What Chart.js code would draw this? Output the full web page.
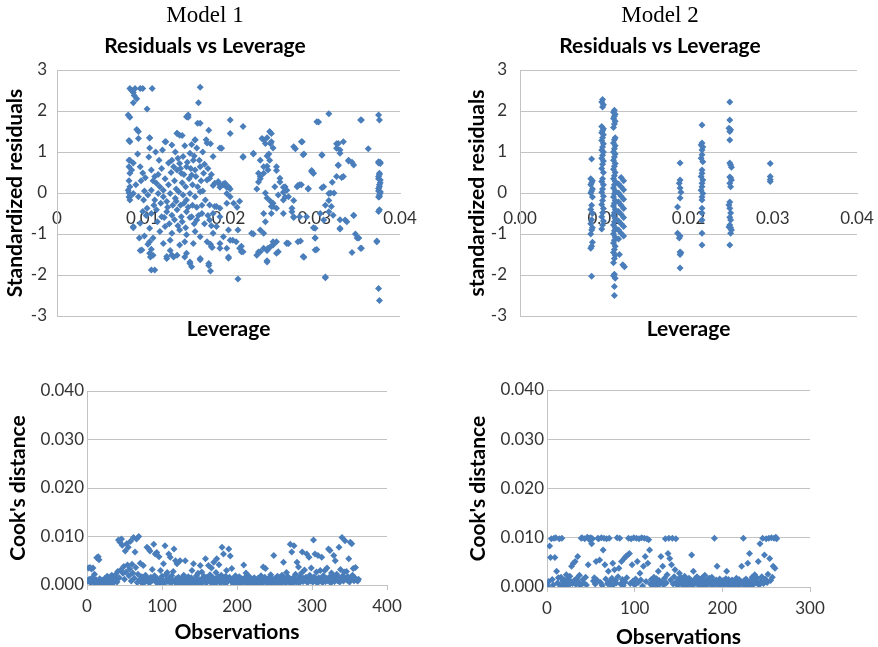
<!DOCTYPE html>
<html>
<head>
<meta charset="utf-8">
<script src="https://cdn.jsdelivr.net/npm/chart.js@4.4.1/dist/chart.umd.min.js"></script>
<style>
  body { margin: 0; background: #fff; width: 878px; height: 647px; position: relative; overflow: hidden; }
  canvas { position: absolute; }
</style>
</head>
<body>
<canvas id="c1" width="428" height="350" style="left:-6px;top:0px"></canvas>
<canvas id="c2" width="414" height="350" style="left:463px;top:0px"></canvas>
<canvas id="c3" width="410" height="277" style="left:0px;top:370px"></canvas>
<canvas id="c4" width="400" height="282" style="left:440px;top:370px"></canvas>
<script>
// leverage / standardized residual pairs, model 1
const model1Points = [
  [0.0085,2.55],[0.0087,2.5],[0.0089,2.45],[0.0091,2.55],[0.0093,2.3],[0.0089,2.2],[0.0097,2.55],[0.0100,2.55],[0.0111,2.55],[0.0090,2.38],[0.0105,2.05],
  [0.0083,1.9],[0.0085,1.85],[0.0093,1.55],[0.0095,1.5],[0.0084,1.28],[0.0108,1.35],
  [0.0167,2.58],[0.0165,2.2],[0.0153,1.85],[0.0202,1.78],[0.0217,1.62],[0.0202,1.45],
  [0.0140,1.45],[0.0146,1.4],[0.0177,1.53],[0.0167,1.7],[0.0127,1.25],[0.0161,1.3],[0.0179,1.2],[0.0157,1.18],[0.0190,1.1],[0.0229,0.95],[0.0217,0.87],
  [0.0241,1.3],[0.0245,1.35],[0.0249,1.2],[0.0250,1.45],[0.0252,1.1],[0.0278,1.08],[0.0286,1.25],[0.0288,0.95],
  [0.0305,1.73],[0.0317,1.93],[0.0309,0.92],[0.0326,1.2],[0.0334,1.25],[0.0330,1.05],[0.0354,1.78],[0.0363,1.08],
  [0.0375,1.9],[0.0376,1.78],[0.0375,0.73],[0.0377,0.75],[0.0376,0.45],[0.0375,0.35],[0.0377,0.25],[0.0376,0.15],[0.0375,0.05],[0.0377,0.0],[0.0376,-0.05],[0.0375,-0.1],[0.0375,-0.45],[0.0373,-1.17],[0.0375,-2.33],[0.0376,-2.62],
  [0.0340,0.78],[0.0344,0.75],[0.0328,0.67],[0.0332,0.38],[0.0321,0.26],[0.0319,0.0],[0.0323,0.0],[0.0309,0.13],
  [0.0297,0.55],[0.0299,0.48],[0.0293,0.1],[0.0285,0.2],[0.0281,0.18],
  [0.0317,-0.18],[0.0313,-0.3],[0.0307,-0.5],[0.0299,-0.85],[0.0301,-1.1],[0.0303,-1.38],[0.0313,-2.05],[0.0288,-1.57],[0.0284,-1.17],
  [0.0330,-0.65],[0.0338,-0.7],[0.0346,-0.55],[0.0330,-0.88],[0.0348,-1.0],[0.0352,-1.1],[0.0354,-1.35],[0.0344,-1.45],
  [0.0276,-0.18],[0.0274,-0.37],[0.0276,-0.6],[0.0264,0.02],[0.0268,-1.22],[0.0256,-1.47],
  [0.0260,0.27],[0.0264,0.14],[0.0266,-0.1],[0.0256,0.55],
  [0.0245,0.65],[0.0241,0.48],[0.0237,0.35],[0.0235,0.27],[0.0245,0.9],[0.0247,0.95],
  [0.0233,0.1],[0.0243,0.0],[0.0245,-0.12],[0.0249,-0.2],[0.0252,-0.33],[0.0250,-0.5],[0.0241,-0.5],[0.0243,-0.7],[0.0237,-0.9],
  [0.0229,-1.0],[0.0241,-1.35],[0.0245,-1.4],[0.0249,-1.31],[0.0252,-1.27],[0.0235,-1.44],[0.0233,-1.52],[0.0245,-1.65],[0.0256,-1.19],
  [0.0213,-0.2],[0.0210,-0.35],[0.0211,-0.9],[0.0215,-1.3],[0.0217,-1.43],[0.0211,-2.1],[0.0202,-1.15],[0.0200,-1.56],[0.0190,-1.35],
  [0.0179,-1.25],[0.0181,-1.33],[0.0177,-1.77],[0.0179,-1.9],[0.0167,-1.6],[0.0155,-1.72],[0.0157,-1.8],[0.0149,-1.56],
  [0.0136,-1.56],[0.0140,-1.52],[0.0128,-1.6],[0.0132,-1.4],[0.0110,-1.37],[0.0112,-1.52],[0.0109,-1.56],[0.0114,-1.88],[0.0097,-1.4],[0.0089,-0.85],
  [0.0084,0.8],[0.0084,0.64],[0.0085,0.48],[0.0084,0.3],[0.0085,0.15],[0.0084,0.0],[0.0085,-0.17],[0.0084,-0.1],
  [0.0182,0.18],[0.0190,0.14],[0.0194,0.22],[0.0198,0.14],[0.0202,0.1],
  [0.0095,1.33],[0.0085,1.25],[0.0108,1.34],[0.0126,1.25],[0.0134,1.17],[0.0140,1.46],[0.0143,1.41],[0.0151,1.86],[0.0164,1.7],[0.0161,1.29],[0.0163,1.1],[0.0175,1.22],[0.0192,1.09],[0.0108,1.1],[0.0107,0.88],
  [0.0085,0.8],[0.0087,0.56],[0.0089,0.73],[0.0097,0.64],[0.0100,0.49],[0.0103,0.37],
  [0.0110,0.56],[0.0114,0.4],[0.0116,0.24],[0.0120,0.15],[0.0124,0.07],
  [0.0130,0.73],[0.0134,0.8],[0.0136,0.64],[0.0140,0.56],[0.0143,0.72],[0.0147,0.89],[0.0145,0.48],
  [0.0155,0.97],[0.0159,0.8],[0.0151,0.64],[0.0157,0.44],[0.0161,0.56],
  [0.0167,0.64],[0.0171,0.48],[0.0175,0.32],[0.0178,0.36],[0.0184,0.24],[0.0190,0.2],[0.0196,0.24],[0.0200,0.15],
  [0.0083,0.07],[0.0085,-0.09],[0.0089,-0.01],
  [0.0095,-0.09],[0.0101,-0.17],[0.0106,-0.05],[0.0110,0.07],[0.0114,-0.17],[0.0118,-0.01],
  [0.0124,-0.09],[0.0128,-0.21],[0.0132,-0.01],[0.0138,-0.13],[0.0142,0.03],[0.0147,-0.05],[0.0151,-0.17],[0.0155,-0.01],[0.0161,-0.09],[0.0167,0.03],
  [0.0173,-0.17],[0.0178,-0.29],[0.0184,-0.33],[0.0190,-0.37],[0.0198,-0.25],
  [0.0105,-0.37],[0.0110,-0.5],[0.0116,-0.41],[0.0122,-0.58],[0.0128,-0.46],[0.0134,-0.54],[0.0140,-0.41],[0.0145,-0.58],[0.0151,-0.46],[0.0157,-0.58],[0.0163,-0.66],[0.0169,-0.5],
  [0.0089,-0.82],[0.0097,-0.74],[0.0108,-0.86],[0.0120,-0.94],[0.0126,-0.82],[0.0134,-0.98],[0.0143,-0.9],[0.0151,-1.02],[0.0161,-0.94],[0.0167,-1.07],[0.0182,-0.98],[0.0186,-0.82],[0.0194,-1.07],[0.0200,-0.9],
  [0.0108,-1.19],[0.0124,-1.23],[0.0132,-1.15],[0.0143,-1.27],[0.0149,-1.19],[0.0159,-1.23],[0.0175,-1.19],[0.0180,-1.31],[0.0190,-1.23],[0.0198,-1.35],
  [0.0099,-1.39],[0.0108,-1.47],[0.0128,-1.55],[0.0134,-1.51],[0.0151,-1.47],[0.0155,-1.68],[0.0167,-1.63],[0.0177,-1.72],[0.0110,-1.88],
  [0.0112,0.3],[0.0118,0.45],[0.0122,0.6],[0.0126,0.35],[0.0130,0.2],[0.0133,0.5],[0.0137,0.3],[0.0139,0.1],[0.0141,0.85],[0.0144,0.6],[0.0146,0.25],[0.0148,0.45],[0.0150,0.15],[0.0152,0.75],[0.0154,0.35],[0.0156,0.6],[0.0158,0.2],[0.0160,0.9],[0.0162,0.4],[0.0164,0.15],[0.0166,0.8],[0.0168,0.3],[0.0170,0.05],
  [0.0113,-0.3],[0.0117,-0.7],[0.0121,-0.25],[0.0125,-0.6],[0.0129,-0.35],[0.0131,-0.75],[0.0135,-0.3],[0.0137,-0.65],[0.0139,-0.2],[0.0141,-0.8],[0.0144,-0.3],[0.0146,-0.7],[0.0148,-0.25],[0.0150,-0.85],[0.0153,-0.35],[0.0155,-0.6],[0.0158,-0.3],[0.0160,-0.75],[0.0163,-0.35],[0.0165,-0.55],[0.0169,-0.3],[0.0172,-0.75],[0.0176,-0.55],[0.0180,-0.8],
  [0.0115,1.0],[0.0119,0.8],[0.0123,1.05],[0.0138,1.0],[0.0149,1.15],[0.0170,1.0],[0.0172,0.7],[0.0174,1.3],[0.0176,0.6],[0.0180,0.45],
  [0.0092,0.2],[0.0094,0.95],[0.0098,0.3],[0.0102,0.05],[0.0104,-0.55],[0.0100,-0.45],[0.0096,-1.1],[0.0102,-1.05],[0.0106,-1.25],[0.0112,-1.1],
  [0.0153,1.9],[0.0182,0.89],[0.0217,0.89],[0.0229,0.97],
  [0.0237,0.8],[0.0241,0.64],[0.0235,0.48],[0.0237,0.4],[0.0246,0.56],[0.0248,0.8],
  [0.0239,1.33],[0.0248,1.5],[0.0250,1.25],[0.0243,1.21],
  [0.0256,0.64],[0.0260,0.36],[0.0266,0.15],[0.0254,0.15],[0.0258,-0.05],[0.0264,-0.17],[0.0252,-0.25],[0.0250,-0.33],[0.0256,-0.37],
  [0.0268,0.07],[0.0270,-0.09],[0.0264,-0.5],[0.0274,-0.46],
  [0.0276,1.13],[0.0285,1.25],[0.0287,0.93],
  [0.0280,0.15],[0.0283,0.2],[0.0293,0.11],[0.0297,0.52],[0.0299,0.48],
  [0.0276,-0.58],[0.0283,-0.58],[0.0291,-0.58],
  [0.0270,-1.23],[0.0281,-1.19],[0.0287,-1.55],
  [0.0301,-0.86],[0.0301,-1.1],[0.0301,-1.39],
  [0.0303,1.74],[0.0309,0.93],
  [0.0311,0.15],[0.0317,-0.01],[0.0311,-0.66],[0.0320,-0.33],[0.0322,-0.54],[0.0317,-0.46],
  [0.0328,1.21],[0.0326,1.09],[0.0330,0.97],[0.0328,0.68],[0.0334,0.4],[0.0326,0.4],
  [0.0340,0.8],[0.0346,0.68],
  [0.0336,-0.66],[0.0346,-0.54],[0.0330,-0.86],
  [0.0350,-1.1],[0.0355,-1.35],[0.0355,1.78],
  [0.0375,0.76],[0.0377,0.72],[0.0376,0.48],[0.0375,0.4],[0.0377,0.32],[0.0376,0.2],[0.0375,0.11],[0.0377,0.03],[0.0376,-0.09],[0.0376,-0.41],[0.0373,-1.19],
  [0.0313,-2.07],
  [0.0227,-0.98],[0.0213,-1.35],[0.0209,-1.19],[0.0205,-1.15],[0.0200,-1.59],[0.0215,-1.43],[0.0241,-0.98],[0.0245,-1.39],[0.0237,-1.43],[0.0246,-1.35],[0.0252,-1.19],[0.0258,-1.43],[0.0245,-1.68],[0.0268,-1.23],
  [0.0188,0.28],[0.0194,0.2],[0.0198,-0.01],[0.0202,-0.09],
  [0.0206,-0.25],[0.0186,-0.33],[0.0182,-0.5],[0.0190,-0.58],[0.0178,-0.66]
];

// leverage / standardized residual pairs, model 2
const model2Points = [
  [0.0085,0.83],[0.0084,0.35],[0.0086,0.3],[0.0085,0.25],[0.0084,0.2],[0.0086,0.1],[0.0085,0.05],[0.0084,0.0],[0.0086,-0.1],[0.0085,-0.3],[0.0084,-0.4],
  [0.0086,-0.5],[0.0085,-0.65],[0.0084,-0.75],[0.0086,-0.85],[0.0085,-0.9],[0.0084,-1.0],[0.0086,-1.2],[0.0085,-1.3],[0.0084,-1.35],[0.0085,-2.03],
  [0.0098,2.28],[0.0097,2.22],[0.0099,2.15],[0.0098,2.1],[0.0097,1.62],[0.0099,1.57],[0.0098,1.52],[0.0097,1.47],[0.0099,1.42],[0.0098,1.35],[0.0097,1.28],
  [0.0099,1.2],[0.0098,1.12],[0.0097,1.05],[0.0099,1.0],[0.0098,0.92],[0.0097,0.85],[0.0099,0.78],[0.0098,0.7],[0.0097,0.6],[0.0099,0.5],[0.0098,0.35],
  [0.0097,0.28],[0.0099,0.2],[0.0098,0.1],[0.0097,0.02],[0.0099,-0.08],[0.0098,-0.18],[0.0097,-0.28],[0.0099,-0.38],[0.0098,-0.48],[0.0097,-0.58],
  [0.0099,-0.68],[0.0098,-0.78],[0.0097,-0.88],
  [0.0112,2.02],[0.0111,1.97],[0.0113,1.92],[0.0112,1.87],[0.0111,1.82],[0.0113,1.75],[0.0112,1.68],[0.0111,1.6],[0.0113,1.35],[0.0112,1.3],[0.0111,1.22],
  [0.0113,1.15],[0.0112,1.08],[0.0111,1.0],[0.0113,0.95],[0.0112,0.88],[0.0111,0.8],[0.0113,0.72],[0.0112,0.65],[0.0111,0.58],[0.0113,0.5],[0.0112,0.42],
  [0.0111,0.35],[0.0113,0.28],[0.0112,0.2],[0.0111,0.12],[0.0113,0.05],[0.0112,-0.02],[0.0111,-0.1],[0.0113,-0.18],[0.0112,-0.25],[0.0111,-0.32],
  [0.0113,-0.4],[0.0112,-0.48],[0.0111,-0.55],[0.0113,-0.62],[0.0112,-0.7],[0.0111,-0.78],[0.0113,-0.85],[0.0112,-0.92],[0.0111,-1.0],[0.0113,-1.08],
  [0.0112,-1.15],[0.0111,-1.22],[0.0113,-1.3],[0.0112,-1.38],[0.0111,-1.45],[0.0113,-1.52],[0.0112,-1.6],[0.0111,-1.7],[0.0112,-1.98],[0.0111,-2.02],
  [0.0113,-2.08],[0.0112,-2.28],[0.0112,-2.5],
  [0.0120,0.38],[0.0123,0.3],[0.0117,0.22],[0.0120,0.15],[0.0123,0.08],[0.0117,0.0],[0.0120,-0.08],[0.0123,-0.15],[0.0117,-0.22],[0.0120,-0.3],
  [0.0123,-0.38],[0.0117,-0.45],[0.0120,-0.52],[0.0123,-0.6],[0.0117,-0.68],[0.0120,-0.75],[0.0123,-0.82],[0.0117,-0.9],[0.0120,-0.98],[0.0123,-1.05],
  [0.0117,-1.12],[0.0118,-1.5],[0.0122,-1.75],[0.0124,-1.8],
  [0.0190,0.73],[0.0190,0.32],[0.0189,0.24],[0.0190,0.12],[0.0191,0.02],[0.0190,-0.12],[0.0187,-0.34],[0.0187,-0.98],[0.0190,-1.05],[0.0189,-1.1],
  [0.0190,-1.44],[0.0191,-1.46],[0.0190,-1.5],[0.0190,-1.83],
  [0.0216,1.66],[0.0216,1.22],[0.0215,1.17],[0.0217,1.12],[0.0216,1.05],[0.0216,0.93],[0.0215,0.85],[0.0217,0.76],[0.0216,0.56],[0.0216,0.48],[0.0215,0.4],
  [0.0217,0.32],[0.0216,0.24],[0.0216,0.15],[0.0215,0.07],[0.0217,-0.01],[0.0216,-0.1],[0.0216,-0.17],[0.0216,-0.37],[0.0216,-0.49],[0.0216,-0.66],
  [0.0216,-0.98],[0.0216,-1.27],
  [0.0249,2.22],[0.0249,1.78],[0.0248,1.58],[0.0250,1.54],[0.0249,1.5],[0.0249,1.29],[0.0249,0.73],[0.0250,0.68],[0.0251,0.63],[0.0249,0.39],[0.0250,0.37],
  [0.0251,0.32],[0.0249,0.24],[0.0250,0.15],[0.0249,-0.22],[0.0248,-0.29],[0.0249,-0.37],[0.0250,-0.49],[0.0249,-0.59],[0.0250,-0.66],[0.0249,-0.78],
  [0.0248,-0.83],[0.0250,-0.85],[0.0251,-0.9],[0.0250,-0.98],[0.0249,-1.27],
  [0.0297,0.72],[0.0297,0.4],[0.0297,0.33],[0.0297,0.28]
];

// Cook's distance by observation number, model 1 (obs 1..362)
const model1Cooks = [
  0.0008,0.0035,0.0012,0.0036,0.0004,0.0033,0.0015,0.0035,0.0006,0.0022,
  0.0003,0.0011,0.0056,0.0007,0.0058,0.0052,0.0013,0.0002,0.0009,0.0004,
  0.0010,0.0001,0.0006,0.0014,0.0003,0.0008,0.0018,0.0005,0.0012,0.0002,
  0.0016,0.0007,0.0020,0.0011,0.0004,0.0017,0.0009,0.0021,0.0013,0.0006,
  0.0028,0.0093,0.0015,0.0088,0.0031,0.0095,0.0082,0.0024,0.0038,0.0012,
  0.0070,0.0027,0.0085,0.0041,0.0078,0.0019,0.0033,0.0090,0.0008,0.0043,
  0.0025,0.0098,0.0014,0.0068,0.0036,0.0095,0.0005,0.0022,0.0100,0.0011,
  0.0045,0.0007,0.0017,0.0003,0.0040,0.0012,0.0006,0.0020,0.0009,0.0078,
  0.0014,0.0075,0.0004,0.0070,0.0016,0.0008,0.0032,0.0011,0.0084,0.0019,
  0.0064,0.0006,0.0067,0.0013,0.0002,0.0058,0.0010,0.0030,0.0005,0.0018,
  0.0009,0.0044,0.0003,0.0081,0.0021,0.0012,0.0026,0.0007,0.0064,0.0015,
  0.0057,0.0004,0.0019,0.0010,0.0028,0.0074,0.0006,0.0050,0.0013,0.0044,
  0.0002,0.0016,0.0008,0.0050,0.0011,0.0003,0.0014,0.0006,0.0020,0.0009,
  0.0050,0.0004,0.0012,0.0001,0.0017,0.0007,0.0010,0.0003,0.0015,0.0030,
  0.0008,0.0044,0.0005,0.0013,0.0002,0.0019,0.0009,0.0024,0.0006,0.0011,
  0.0040,0.0003,0.0027,0.0014,0.0007,0.0018,0.0010,0.0054,0.0004,0.0016,
  0.0008,0.0040,0.0012,0.0021,0.0005,0.0035,0.0009,0.0015,0.0047,0.0002,
  0.0013,0.0026,0.0054,0.0007,0.0017,0.0042,0.0011,0.0004,0.0020,0.0078,
  0.0009,0.0064,0.0014,0.0003,0.0018,0.0030,0.0006,0.0012,0.0074,0.0016,
  0.0060,0.0008,0.0034,0.0011,0.0002,0.0015,0.0007,0.0019,0.0005,0.0013,
  0.0010,0.0003,0.0017,0.0008,0.0014,0.0001,0.0012,0.0006,0.0041,0.0009,
  0.0016,0.0025,0.0004,0.0011,0.0007,0.0018,0.0002,0.0013,0.0009,0.0005,
  0.0012,0.0003,0.0015,0.0008,0.0001,0.0010,0.0006,0.0014,0.0004,0.0011,
  0.0007,0.0019,0.0002,0.0013,0.0037,0.0009,0.0016,0.0034,0.0005,0.0012,
  0.0008,0.0003,0.0015,0.0010,0.0021,0.0006,0.0013,0.0002,0.0061,0.0009,
  0.0014,0.0005,0.0011,0.0018,0.0007,0.0012,0.0003,0.0016,0.0009,0.0020,
  0.0006,0.0047,0.0010,0.0014,0.0004,0.0026,0.0008,0.0017,0.0012,0.0005,
  0.0084,0.0011,0.0068,0.0003,0.0015,0.0081,0.0009,0.0022,0.0006,0.0047,
  0.0013,0.0037,0.0004,0.0018,0.0010,0.0025,0.0068,0.0007,0.0014,0.0031,
  0.0009,0.0016,0.0064,0.0005,0.0012,0.0057,0.0020,0.0008,0.0035,0.0013,
  0.0006,0.0093,0.0017,0.0064,0.0010,0.0027,0.0004,0.0061,0.0015,0.0008,
  0.0030,0.0012,0.0057,0.0005,0.0019,0.0010,0.0030,0.0007,0.0014,0.0035,
  0.0009,0.0074,0.0016,0.0071,0.0004,0.0025,0.0011,0.0018,0.0061,0.0007,
  0.0050,0.0013,0.0022,0.0009,0.0016,0.0078,0.0006,0.0032,0.0012,0.0098,
  0.0019,0.0008,0.0027,0.0091,0.0014,0.0028,0.0010,0.0017,0.0054,0.0006,
  0.0088,0.0013,0.0085,0.0020,0.0034,0.0009,0.0015,0.0036,0.0011,0.0010,
  0.0008,0.0012
];

// Cook's distance by observation number, model 2 (obs 1..262)
const model2Cooks = [
  0.0002,0.0011,0.0083,0.0060,0.0098,0.0015,0.0004,0.0099,0.0060,0.0100,
  0.0032,0.0008,0.0019,0.0098,0.0003,0.0020,0.0099,0.0012,0.0006,0.0014,
  0.0001,0.0025,0.0009,0.0017,0.0004,0.0022,0.0011,0.0042,0.0007,0.0048,
  0.0013,0.0052,0.0005,0.0018,0.0062,0.0010,0.0024,0.0003,0.0099,0.0100,
  0.0015,0.0008,0.0098,0.0020,0.0004,0.0101,0.0045,0.0099,0.0095,0.0100,
  0.0088,0.0098,0.0012,0.0019,0.0006,0.0052,0.0014,0.0099,0.0098,0.0055,
  0.0009,0.0100,0.0003,0.0075,0.0099,0.0045,0.0016,0.0098,0.0007,0.0032,
  0.0099,0.0011,0.0002,0.0018,0.0048,0.0005,0.0035,0.0013,0.0008,0.0100,
  0.0021,0.0038,0.0099,0.0006,0.0052,0.0015,0.0003,0.0058,0.0010,0.0062,
  0.0019,0.0065,0.0099,0.0068,0.0007,0.0098,0.0045,0.0012,0.0100,0.0004,
  0.0016,0.0099,0.0052,0.0009,0.0098,0.0028,0.0014,0.0100,0.0002,0.0042,
  0.0099,0.0062,0.0011,0.0098,0.0048,0.0096,0.0075,0.0006,0.0015,0.0003,
  0.0012,0.0020,0.0005,0.0009,0.0017,0.0002,0.0032,0.0013,0.0007,0.0062,
  0.0010,0.0042,0.0004,0.0018,0.0098,0.0008,0.0025,0.0068,0.0099,0.0058,
  0.0014,0.0045,0.0099,0.0006,0.0021,0.0035,0.0098,0.0011,0.0003,0.0016,
  0.0028,0.0009,0.0019,0.0005,0.0013,0.0002,0.0022,0.0008,0.0015,0.0004,
  0.0011,0.0018,0.0006,0.0014,0.0065,0.0003,0.0032,0.0010,0.0017,0.0007,
  0.0021,0.0012,0.0004,0.0016,0.0009,0.0001,0.0019,0.0013,0.0006,0.0024,
  0.0010,0.0003,0.0015,0.0008,0.0018,0.0012,0.0005,0.0020,0.0002,0.0011,
  0.0099,0.0007,0.0014,0.0042,0.0004,0.0009,0.0016,0.0001,0.0012,0.0006,
  0.0013,0.0003,0.0010,0.0017,0.0032,0.0008,0.0015,0.0002,0.0011,0.0005,
  0.0014,0.0009,0.0001,0.0012,0.0006,0.0018,0.0003,0.0010,0.0015,0.0004,
  0.0011,0.0042,0.0007,0.0099,0.0013,0.0002,0.0016,0.0009,0.0048,0.0005,
  0.0068,0.0012,0.0003,0.0020,0.0010,0.0006,0.0025,0.0014,0.0008,0.0018,
  0.0052,0.0004,0.0088,0.0011,0.0021,0.0099,0.0007,0.0065,0.0016,0.0098,
  0.0009,0.0026,0.0099,0.0058,0.0013,0.0100,0.0020,0.0042,0.0099,0.0038,
  0.0101,0.0098
];

const residualTicks = ['-3', '-2', '-1', '0', '1', '2', '3'];
const leverageTicks1 = ['0', '0.01', '0.02', '0.03', '0.04'];
const leverageTicks2 = ['0.00', '0.01', '0.02', '0.03', '0.04'];
const cooksTicks = ['0.000', '0.010', '0.020', '0.030', '0.040'];
const obsTicks1 = ['0', '100', '200', '300', '400'];
const obsTicks2 = ['0', '100', '200', '300'];

const blue = '#4a7ebb';
const gridColor = '#c3c3c3';
const tickFont = { family: 'Lato', size: 17 };
const boldFont = { family: 'Lato', size: 21, weight: 'bold' };

function pointDataset(points) {
  return {
    data: points,
    pointStyle: 'rectRot',
    pointRadius: 3.5,
    pointBorderWidth: 0,
    backgroundColor: blue,
    borderColor: blue
  };
}

function residualChart(id, model, points, xTicks, yTitle, box) {
  new Chart(document.getElementById(id), {
    type: 'scatter',
    data: { datasets: [pointDataset(points.map(p => ({ x: p[0], y: p[1] })))] },
    options: {
      responsive: false,
      animation: false,
      layout: { padding: { left: box.padLeft, top: 0, right: box.padRight, bottom: box.padBottom } },
      plugins: {
        legend: { display: false },
        tooltip: { enabled: false },
        title: {
          display: true, text: model, color: '#000',
          font: { family: 'Liberation Serif', size: 23, weight: 'normal' },
          padding: { top: 2, bottom: 0 }
        },
        subtitle: {
          display: true, text: 'Residuals vs Leverage', color: '#000',
          font: boldFont,
          padding: { top: 3.8, bottom: 11.4 }
        }
      },
      scales: {
        x: {
          type: 'linear',
          position: { y: 0 },
          min: 0, max: 0.04,
          z: 1,
          // tick marks hidden; tickLength only pushes the labels below the zero line
          ticks: { stepSize: 0.01, autoSkip: false, maxRotation: 0, padding: 2, font: tickFont, color: '#333',
            callback: (v, i) => xTicks[i] },
          grid: { display: false, drawTicks: true, tickLength: 13 },
          border: { display: true, color: gridColor },
          title: { display: true, text: 'Leverage', color: '#000', font: boldFont, padding: { top: 4, bottom: 4 } },
          afterFit: s => { s.height = box.xHeight; }
        },
        y: {
          min: -3, max: 3,
          ticks: { stepSize: 1, padding: box.yTickPad, font: tickFont, color: '#333',
            callback: (v, i) => residualTicks[i] },
          grid: { color: gridColor, drawTicks: false },
          border: { color: gridColor },
          title: { display: true, text: yTitle, color: '#000', font: boldFont, padding: { top: box.yTitlePad, bottom: 0 } },
          afterFit: s => { s.width = box.yWidth; }
        }
      }
    }
  });
}

function cooksChart(id, values, xMax, xTicks, box) {
  new Chart(document.getElementById(id), {
    type: 'scatter',
    data: { datasets: [pointDataset(values.map((v, i) => ({ x: i + 1, y: v })))] },
    options: {
      responsive: false,
      animation: false,
      layout: { padding: { left: 0, top: box.padTop, right: box.padRight, bottom: 0 } },
      plugins: { legend: { display: false }, tooltip: { enabled: false } },
      scales: {
        x: {
          type: 'linear',
          min: 0, max: xMax,
          ticks: { stepSize: 100, autoSkip: false, maxRotation: 0, padding: 6, font: tickFont, color: '#333',
            callback: (v, i) => xTicks[i] },
          grid: { drawOnChartArea: false, drawTicks: true, tickLength: 5, color: gridColor },
          border: { color: gridColor },
          title: { display: true, text: 'Observations', color: '#000', font: boldFont, padding: { top: 4, bottom: box.xTitlePad } },
          afterFit: s => { s.height = box.xHeight; }
        },
        y: {
          min: 0, max: 0.04,
          ticks: { stepSize: 0.01, padding: 3, font: tickFont, color: '#333',
            callback: (v, i) => cooksTicks[i] },
          grid: { color: gridColor, drawTicks: false },
          border: { color: gridColor },
          title: { display: true, text: "Cook's distance", color: '#000', font: boldFont, padding: { top: box.yTitlePad, bottom: 0 } },
          afterFit: s => { s.width = box.yWidth; }
        }
      }
    }
  });
}

residualChart('c1', 'Model 1', model1Points, leverageTicks1, 'Standardized residuals',
  { padLeft: 16, padRight: 22, padBottom: 34, xHeight: 153, yWidth: 47, yTickPad: 10, yTitlePad: -7.6 });
residualChart('c2', 'Model 2', model2Points, leverageTicks2, 'standardized residuals',
  { padLeft: 0, padRight: 20, padBottom: 34, xHeight: 153, yWidth: 57, yTickPad: 13, yTitlePad: 1.9 });
cooksChart('c3', model1Cooks, 400, obsTicks1,
  { padTop: 21, padRight: 23, xHeight: 62, xTitlePad: 2.4, yWidth: 87, yTitlePad: 5.4 });
cooksChart('c4', model2Cooks, 300, obsTicks2,
  { padTop: 20, padRight: 30, xHeight: 65, xTitlePad: 2.4, yWidth: 107, yTitlePad: 25.4 });
</script>
</body>
</html>
